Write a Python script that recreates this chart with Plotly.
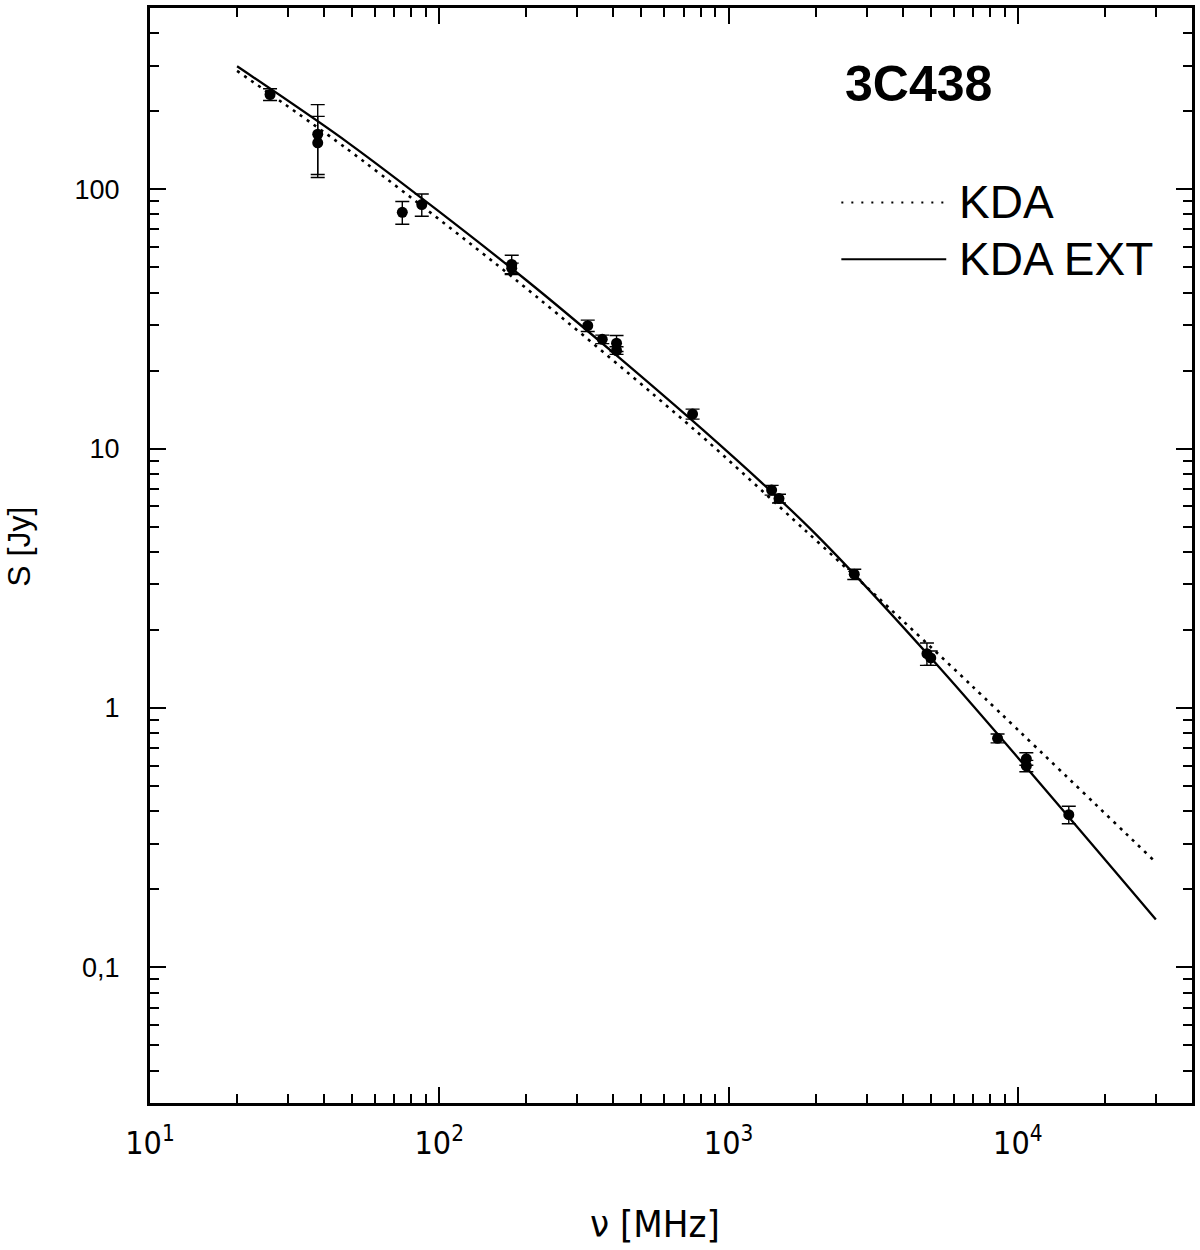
import plotly.graph_objects as go
import math

# ---------------- data ----------------
obs_freq = [26, 38, 38, 74.5, 87, 178, 178, 326, 366, 410, 410, 751,
            1409, 1494, 2720, 4850, 5000, 8510, 10700, 10700, 15000]
obs_flux = [232, 163, 151, 81.5, 87.3, 51.3, 49.6, 29.8, 26.4, 25.5, 23.9, 13.6,
            6.92, 6.42, 3.28, 1.62, 1.56, 0.764, 0.637, 0.598, 0.388]
obs_err = [12, 49, 40, 8.2, 8.6, 4.4, 2.3, 1.5, 1.0, 1.8, 0.8, 0.6,
           0.3, 0.25, 0.15, 0.16, 0.10, 0.03, 0.035, 0.03, 0.03]

kda_freq = [20, 47.2, 185.1, 755, 1837, 3311, 6923, 30000]
kda_flux = [286, 145.1, 44.5, 11.94, 4.85, 2.645, 1.22, 0.254]

ext_freq = [20, 49.1, 200.5, 817.6, 1938, 5453, 30000]
ext_flux = [298, 149.4, 44.5, 11.78, 4.85, 1.402, 0.153]

x_tickvals = [10, 100, 1000, 10000]
x_ticktext = ["10<sup>1</sup>", "10<sup>2</sup>", "10<sup>3</sup>", "10<sup>4</sup>"]
x_minor = [20, 30, 40, 50, 60, 70, 80, 90,
           200, 300, 400, 500, 600, 700, 800, 900,
           2000, 3000, 4000, 5000, 6000, 7000, 8000, 9000,
           20000, 30000]
y_tickvals = [0.1, 1, 10, 100]
y_ticktext = ["0,1", "1", "10", "100"]
y_minor = [0.03, 0.04, 0.05, 0.06, 0.07, 0.08, 0.09,
           0.2, 0.3, 0.4, 0.5, 0.6, 0.7, 0.8, 0.9,
           2, 3, 4, 5, 6, 7, 8, 9,
           20, 30, 40, 50, 60, 70, 80, 90,
           200, 300, 400]

source_name = "3C438"
legend_names = ["KDA", "KDA EXT"]

NARROW = "Liberation Sans Narrow, DejaVu Sans Condensed, Arial Narrow, sans-serif"
SANS = "Liberation Sans, Arial, sans-serif"

X_RANGE = [1, math.log10(40000)]
Y_RANGE = [math.log10(0.03), math.log10(500)]

fig = go.Figure()

# KDA drawn on the overlay axes (identical ranges) so the minor-tick axes exist
fig.add_trace(go.Scatter(
    x=kda_freq, y=kda_flux, mode="lines", name=legend_names[0],
    xaxis="x2", yaxis="y2",
    line=dict(color="black", width=2.6, dash="3px,5.5px", shape="spline", smoothing=0.8),
    showlegend=False, hoverinfo="skip"))
fig.add_trace(go.Scatter(
    x=ext_freq, y=ext_flux, mode="lines", name=legend_names[1],
    line=dict(color="black", width=2.3, shape="spline", smoothing=0.8),
    showlegend=False, hoverinfo="skip"))
fig.add_trace(go.Scatter(
    x=obs_freq, y=obs_flux, mode="markers", name="data",
    marker=dict(color="black", size=11, symbol="circle"),
    error_y=dict(type="data", array=obs_err, visible=True, color="black",
                 thickness=1.4, width=7),
    showlegend=False))

# geometry of plot area (pixels)
W, H = 1200, 1250
L, R, T, B = 150, 7, 5, 147
pw = W - L - R
ph = H - T - B

def px(x):
    return (x - L) / pw

def py(y):
    return 1 - (y - T) / ph

axis_common = dict(
    type="log", showgrid=False, zeroline=False,
    showline=True, linecolor="black", linewidth=3, mirror="ticks",
    ticks="inside", tickwidth=2, tickcolor="black",
)

fig.update_layout(
    xaxis=dict(
        **axis_common, ticklen=16,
        range=X_RANGE,
        tickmode="array", tickvals=x_tickvals, ticktext=x_ticktext,
        tickfont=dict(family=NARROW, size=32, color="black"),
        ticklabelstandoff=10,
    ),
    yaxis=dict(
        **axis_common, ticklen=16,
        range=Y_RANGE,
        tickmode="array", tickvals=y_tickvals, ticktext=y_ticktext,
        tickfont=dict(family=SANS, size=27, color="black"),
        ticklabelstandoff=22,
    ),
    xaxis2=dict(
        **axis_common, ticklen=9,
        range=X_RANGE, overlaying="x", anchor="y2", side="bottom",
        tickmode="array", tickvals=x_minor, showticklabels=False,
    ),
    yaxis2=dict(
        **axis_common, ticklen=9,
        range=Y_RANGE, overlaying="y", anchor="x2", side="left",
        tickmode="array", tickvals=y_minor, showticklabels=False,
    ),
)

annotations = [
    dict(text="<b>" + source_name + "</b>", x=px(919), y=py(81), xref="paper", yref="paper",
         showarrow=False, font=dict(family=SANS, size=50, color="black"),
         xanchor="center", yanchor="middle"),
    dict(text=legend_names[0], x=px(958), y=py(200), xref="paper", yref="paper",
         showarrow=False, font=dict(family=SANS, size=46, color="black"),
         xanchor="left", yanchor="middle"),
    dict(text=legend_names[1], x=px(958), y=py(257), xref="paper", yref="paper",
         showarrow=False, font=dict(family=SANS, size=46, color="black"),
         xanchor="left", yanchor="middle"),
    dict(text="S [Jy]", x=px(18), y=py(545), xref="paper", yref="paper",
         showarrow=False, textangle=-90, font=dict(family=SANS, size=32, color="black"),
         xanchor="center", yanchor="middle"),
    dict(text="ν [MHz]", x=px(655), y=py(1224), xref="paper", yref="paper",
         showarrow=False, font=dict(family=NARROW, size=38, color="black"),
         xanchor="center", yanchor="middle"),
]

shapes = [
    dict(type="line", xref="paper", yref="paper", x0=px(842), x1=px(947), y0=py(200), y1=py(200),
         line=dict(color="black", width=2, dash="2px,8px")),
    dict(type="line", xref="paper", yref="paper", x0=px(842), x1=px(947), y0=py(257), y1=py(257),
         line=dict(color="black", width=2)),
]

fig.update_layout(
    width=W, height=H,
    margin=dict(l=L, r=R, t=T, b=B),
    paper_bgcolor="white", plot_bgcolor="white",
    annotations=annotations, shapes=shapes,
    showlegend=False,
)

fig.write_html("out.html", config={"displayModeBar": False},
               post_script="document.body.style.margin='0px';")
